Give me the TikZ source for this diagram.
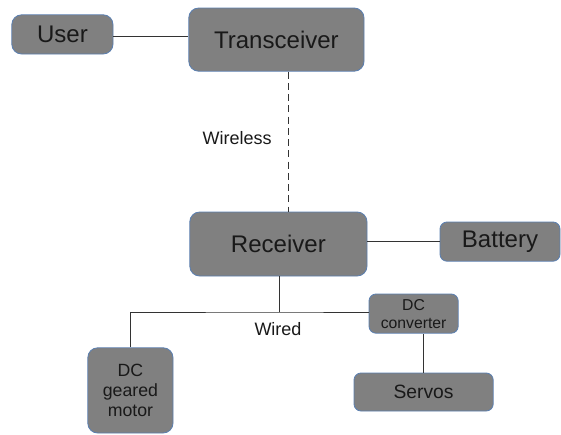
\documentclass[tikz,border=0pt]{standalone}
\usepackage{fontspec}
\setmainfont{Liberation Sans}
\usetikzlibrary{positioning}
\definecolor{boxfill}{HTML}{808080}
\definecolor{boxline}{HTML}{5B7FB0}
\definecolor{wirecol}{HTML}{333333}

\begin{document}
\begin{tikzpicture}[
  part node/.style={draw=boxline, line width=0.6pt, fill=boxfill, rounded corners=5pt,
    inner sep=0pt, align=center, text=black!90},
  big node/.style={part node, rounded corners=7pt, font=\fontsize{17.1}{20}\selectfont},
  wire/.style={draw=wirecol, line width=0.7pt},
  link label/.style={font=\fontsize{12.8}{15}\selectfont, text=black!90}
]
\useasboundingbox (0,0) rectangle (14.025,-10.85);
\node[big node, minimum width=2.53cm, minimum height=0.98cm] (user) at (1.56, -0.86) {User};
\node[big node, minimum width=4.38cm, minimum height=1.58cm] (trans) at (6.91, -0.99) {Transceiver};
\node[big node, minimum width=4.43cm, minimum height=1.60cm] (recv) at (6.96, -6.10) {Receiver};
\node[big node, minimum width=3.00cm, minimum height=0.98cm, rounded corners=5pt] (batt) at (12.50, -6.04) {Battery};
\node[part node, minimum width=2.23cm, minimum height=0.98cm,
  font=\fontsize{11.2}{12.8}\selectfont] (conv) at (10.34, -7.84) {DC\\converter};
\node[part node, minimum width=3.48cm, minimum height=0.95cm,
  font=\fontsize{13.7}{16}\selectfont] (servo) at (10.59, -9.80) {Servos};
\node[part node, minimum width=2.13cm, minimum height=2.13cm, rounded corners=7pt,
  font=\fontsize{12.6}{14.2}\selectfont] (motor) at (3.26, -9.76) {DC\\geared\\motor};
\node[link label] (wireless) at (5.93, -3.45) {Wireless};
\node[link label] (wired) at (6.95, -8.23) {Wired};
\coordinate (hub) at (6.98, -7.80);
% links
\draw[wire] ([yshift=-1.5pt]user.east) -- ([yshift=-1.5pt]user.east -| trans.west);
\draw[wire, dashed, dash pattern=on 5pt off 3pt] ([xshift=0.31cm]trans.south) -- ([xshift=0.31cm]trans.south |- recv.north);
\draw[wire] (batt.west) -- (batt.west -| recv.east);
\draw[wire] (recv.south -| hub) -- (hub);
\draw[wire] (motor.north) |- (hub) -- (hub -| conv.west);
\draw[wire] (servo.north) -- (servo.north |- conv.south);
\end{tikzpicture}
\end{document}
